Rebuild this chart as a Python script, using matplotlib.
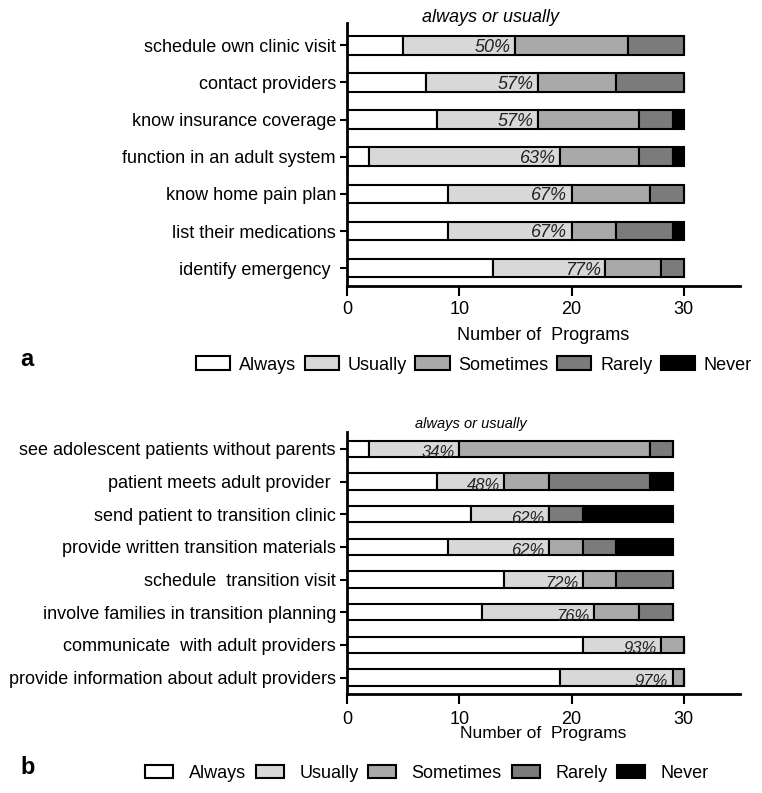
import matplotlib
matplotlib.use("Agg")
import matplotlib.pyplot as plt
from matplotlib.patches import Patch
import numpy as np

plt.rcParams['font.family'] = ['Liberation Sans', 'DejaVu Sans']

levels = ["Always", "Usually", "Sometimes", "Rarely", "Never"]
colors = ["#ffffff", "#d8d8d8", "#a9a9a9", "#7b7b7b", "#000000"]

# Panel a (top to bottom)
cats_a = ["schedule own clinic visit", "contact providers", "know insurance coverage",
          "function in an adult system", "know home pain plan", "list their medications",
          "identify emergency "]
always_a = [5, 7, 8, 2, 9, 9, 13]
usually_a = [10, 10, 9, 17, 11, 11, 10]
sometimes_a = [10, 7, 9, 7, 7, 4, 5]
rarely_a = [5, 6, 3, 3, 3, 5, 2]
never_a = [0, 0, 1, 1, 0, 1, 0]
pct_a = ["50%", "57%", "57%", "63%", "67%", "67%", "77%"]

# Panel b (top to bottom)
cats_b = ["see adolescent patients without parents", "patient meets adult provider ",
          "send patient to transition clinic", "provide written transition materials",
          "schedule  transition visit", "involve families in transition planning",
          "communicate  with adult providers", "provide information about adult providers"]
always_b = [2, 8, 11, 9, 14, 12, 21, 19]
usually_b = [8, 6, 7, 9, 7, 10, 7, 10]
sometimes_b = [17, 4, 0, 3, 3, 4, 2, 1]
rarely_b = [2, 9, 3, 3, 5, 3, 0, 0]
never_b = [0, 2, 8, 5, 0, 0, 0, 0]
pct_b = ["34%", "48%", "62%", "62%", "72%", "76%", "93%", "97%"]

xticks = [0, 10, 20, 30]

W, H = 762, 793
fig = plt.figure(figsize=(W / 100, H / 100), dpi=100)


def panel(rect, cats, series, pcts, ylim, pct_size, pct_dy, title_x, title_size, title_y, xpad):
    ax = fig.add_axes(rect)
    y = np.arange(len(cats))
    left = np.zeros(len(cats))
    for vals, c in zip(series, colors):
        vals = np.array(vals, dtype=float)
        ax.barh(y, vals, left=left, height=0.5, color=c, edgecolor="black", linewidth=1.5)
        left += vals
    au = np.array(series[0]) + np.array(series[1])
    for yi, v, p in zip(y, au, pcts):
        ax.text(v - 0.4, yi + pct_dy, p, ha="right", va="center", style="italic",
                fontsize=pct_size, color="#222222")
    ax.set_yticks(y)
    ax.set_yticklabels(cats, fontsize=13)
    ax.set_ylim(*ylim)
    ax.set_xlim(0, 35)
    ax.set_xticks(xticks)
    ax.tick_params(axis="x", labelsize=13, width=1.5, length=7, pad=xpad)
    ax.tick_params(axis="y", width=1.5, length=5, pad=3)
    for s in ["top", "right"]:
        ax.spines[s].set_visible(False)
    for s in ["left", "bottom"]:
        ax.spines[s].set_linewidth(2)
    ax.text(title_x, title_y, "always or usually", style="italic", fontsize=title_size,
            ha="center", va="center", transform=ax.get_xaxis_transform())
    return ax


ax_a = panel([347 / W, 1 - 286 / H, 393 / W, 263 / H], cats_a,
             [always_a, usually_a, sometimes_a, rarely_a, never_a], pct_a,
             (6.48, -0.6), 13, 0.05, 12.8, 13, 1.02, 4)
ax_a.set_xlabel("Number of  Programs", fontsize=13, labelpad=6)

ax_b = panel([347 / W, 1 - 694 / H, 393 / W, 262 / H], cats_b,
             [always_b, usually_b, sometimes_b, rarely_b, never_b], pct_b,
             (7.5, -0.52), 12, 0.12, 11.0, 10.5, 1.03, 5)
ax_b.set_xlabel("Number of  Programs", fontsize=12.5, labelpad=-1)

handles = [Patch(facecolor=c, edgecolor="black", linewidth=1.5, label=l)
           for c, l in zip(colors, levels)]

fig.legend(handles=handles, loc="center", bbox_to_anchor=(474 / W, 1 - 365 / H), ncol=5,
           frameon=False, fontsize=13, handlelength=1.9, handleheight=0.8,
           handletextpad=0.5, columnspacing=0.45)
fig.legend(handles=handles, loc="center", bbox_to_anchor=(427 / W, 1 - 773 / H), ncol=5,
           frameon=False, fontsize=13, handlelength=1.55, handleheight=0.7,
           handletextpad=0.85, columnspacing=0.55)

fig.text(20 / W, 1 - 360 / H, "a", fontsize=17, fontweight="bold", va="center", ha="left")
fig.text(20 / W, 1 - 768 / H, "b", fontsize=17, fontweight="bold", va="center", ha="left")

fig.savefig("out.png", dpi=100)
